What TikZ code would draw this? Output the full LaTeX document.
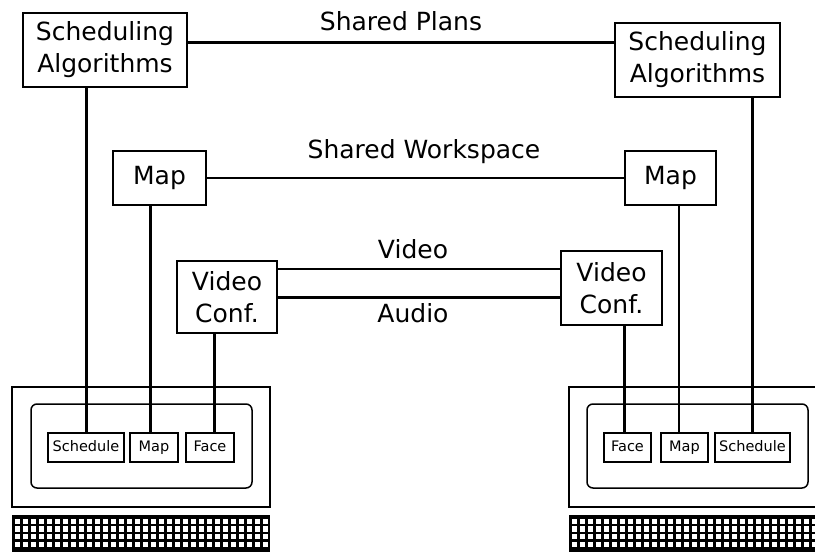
\documentclass[tikz,border=0pt]{standalone}
\usepackage{fontspec}
\setmainfont{DejaVu Sans}
\usepackage{tikz}
\usetikzlibrary{calc}

\begin{document}
\begin{tikzpicture}[x=1pt, y=-1pt,
    box/.style={draw, line width=1.5pt, fill=white, inner sep=0pt, align=center, font=\fontsize{25}{32}\selectfont},
    smallbox/.style={draw, line width=1.3pt, fill=white, inner sep=0pt, minimum height=29pt, text height=10.5pt, text depth=2pt, font=\fontsize{14.5}{16}\selectfont},
    label/.style={anchor=base, font=\fontsize{25}{30}\selectfont},
    thickline/.style={line width=3pt},
    thinline/.style={line width=1.6pt}]

    \useasboundingbox (0,0) rectangle (815,552);

    % monitors and keyboards
    \draw[line width=1.5pt] (12,387) rectangle (270,507);
    \draw[line width=1.5pt, rounded corners=6pt] (31,404) rectangle (252,488);
    \draw[line width=1.5pt] (569,387) rectangle (830,507);
    \draw[line width=1.5pt, rounded corners=6pt] (587,404) rectangle (808,488);
    \fill[black] (12,515) rectangle (270,556);
    \fill[black] (569,515) rectangle (830,556);
    \foreach \i in {0,...,31} {
        \foreach \j in {0,...,3} {
            \fill[white] (14.5+8*\i,518.5+7.7*\j) rectangle ++(5.8,5.4);
            \fill[white] (571.5+8*\i,518.5+7.7*\j) rectangle ++(5.8,5.4);
        }
    }

    % boxes
    \node[box, minimum width=164pt, minimum height=74pt] (algo1) at (105,50) {Scheduling\\Algorithms};
    \node[box, minimum width=165pt, minimum height=74pt] (algo2) at (697.5,60) {Scheduling\\Algorithms};
    \node[box, minimum width=93pt, minimum height=54pt] (map1) at (159.5,178) {Map};
    \node[box, minimum width=91pt, minimum height=54pt] (map2) at (670.5,178) {Map};
    \node[box, minimum width=100pt, minimum height=72pt] (conf1) at (227,297) {Video\\Conf.};
    \node[box, minimum width=101pt, minimum height=74pt] (conf2) at (611.5,288) {Video\\Conf.};

    \node[smallbox, minimum width=76pt] (sched1) at (86,447.5) {Schedule};
    \node[smallbox, minimum width=48pt] (smap1) at (154,447.5) {Map};
    \node[smallbox, minimum width=48pt] (face1) at (210,447.5) {Face};
    \node[smallbox, minimum width=47pt] (face2) at (627.5,447.5) {Face};
    \node[smallbox, minimum width=47pt] (smap2) at (684.5,447.5) {Map};
    \node[smallbox, minimum width=75pt] (sched2) at (752.5,447.5) {Schedule};

    % links between the two sites
    \coordinate (plans) at (0,42);
    \coordinate (video) at (0,269);
    \coordinate (audio) at (0,297);
    \draw[thickline] (algo1.east |- plans) -- node[label, above=6pt] {Shared Plans} (algo2.west |- plans);
    \draw[thinline] (map1.east) -- (map2.west);
    \node[label] (workspace) at (424,158) {Shared Workspace};
    \draw[thinline] (conf1.east |- video) -- (conf2.west |- video);
    \draw[thickline] (conf1.east |- audio) -- (conf2.west |- audio);
    \node[label] (videolabel) at (413,258) {Video};
    \node[label] (audiolabel) at (413,322) {Audio};

    % into the screens
    \draw[thickline] (sched1.north) -- (sched1.north |- algo1.south);
    \draw[thickline] ([xshift=-4pt]smap1.north) -- ([xshift=-4pt]smap1.north |- map1.south);
    \draw[thickline] ([xshift=4pt]face1.north) -- ([xshift=4pt]face1.north |- conf1.south);
    \draw[thickline] ([xshift=-3.5pt]face2.north) -- ([xshift=-3.5pt]face2.north |- conf2.south);
    \draw[thinline] ([xshift=-5.5pt]smap2.north) -- ([xshift=-5.5pt]smap2.north |- map2.south);
    \draw[thickline] (sched2.north) -- (sched2.north |- algo2.south);

\end{tikzpicture}
\end{document}
